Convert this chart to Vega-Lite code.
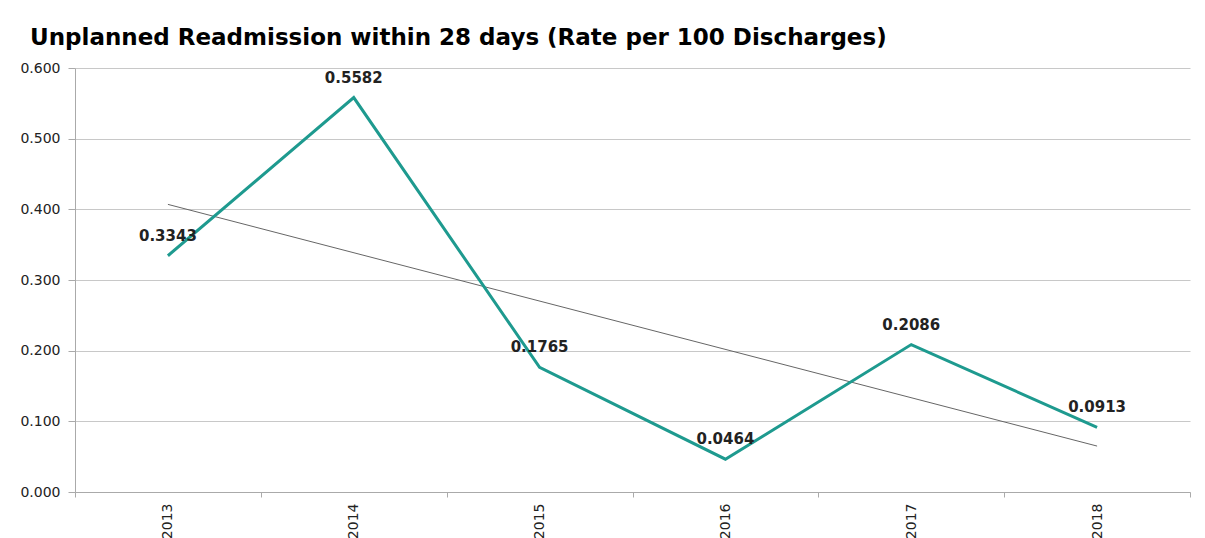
{
  "$schema": "https://vega.github.io/schema/vega-lite/v6.json",
  "width": 1115,
  "height": 424,
  "autosize": {"type": "none"},
  "padding": {"left": 75, "top": 68, "right": 15, "bottom": 46},
  "background": "white",
  "title": {
    "text": "Unplanned Readmission within 28 days (Rate per 100 Discharges)",
    "anchor": "start",
    "frame": "group",
    "dx": -45,
    "offset": 11,
    "font": "DejaVu Sans",
    "fontSize": 23,
    "fontWeight": "bold",
    "color": "#000000"
  },
  "datasets": {
    "rates": [
      {"year": "2013", "rate": 0.3343},
      {"year": "2014", "rate": 0.5582},
      {"year": "2015", "rate": 0.1765},
      {"year": "2016", "rate": 0.0464},
      {"year": "2017", "rate": 0.2086},
      {"year": "2018", "rate": 0.0913}
    ],
    "trend": [
      {"year": "2013", "rate": 0.407},
      {"year": "2018", "rate": 0.065}
    ]
  },
  "config": {
    "view": {"stroke": null},
    "axis": {
      "labelFont": "DejaVu Sans",
      "labelFontSize": 14,
      "labelColor": "#222222",
      "domainColor": "#aaaaaa",
      "tickColor": "#aaaaaa",
      "gridColor": "#c8c8c8",
      "title": null
    }
  },
  "encoding": {
    "x": {
      "field": "year",
      "type": "nominal",
      "sort": ["2013", "2014", "2015", "2016", "2017", "2018"],
      "scale": {"paddingInner": 0, "paddingOuter": 0},
      "axis": {"labelAngle": -90, "tickBand": "extent", "tickSize": 5, "labelPadding": 6, "grid": false, "labelBaseline": "middle", "labelAlign": "right", "labelFontSize": 14}
    },
    "y": {
      "field": "rate",
      "type": "quantitative",
      "scale": {"domain": [0, 0.6], "nice": false},
      "axis": {"values": [0, 0.1, 0.2, 0.3, 0.4, 0.5, 0.6], "format": ".3f", "tickSize": 7, "labelPadding": 8, "grid": true}
    }
  },
  "layer": [
    {
      "data": {"name": "trend"},
      "mark": {"type": "line", "color": "#666666", "strokeWidth": 1}
    },
    {
      "data": {"name": "rates"},
      "mark": {"type": "line", "color": "#1e9a8f", "strokeWidth": 3}
    },
    {
      "data": {"name": "rates"},
      "mark": {"type": "text", "dy": -20, "font": "DejaVu Sans", "fontSize": 15, "fontWeight": "bold", "color": "#222222"},
      "encoding": {"text": {"field": "rate", "type": "quantitative", "format": ".4f"}}
    }
  ]
}
